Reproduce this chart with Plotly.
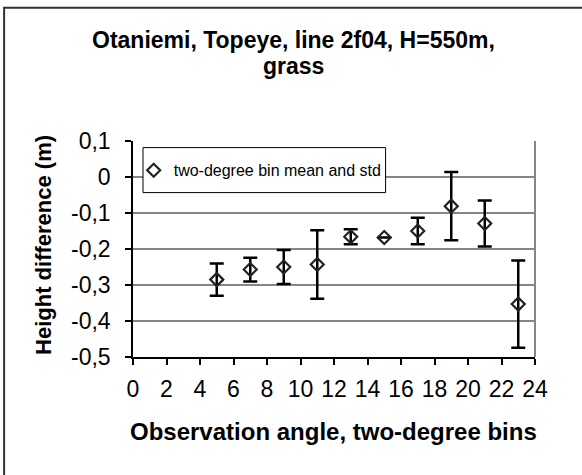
import plotly.graph_objects as go

# ---- data ----
angles = [5, 7, 9, 11, 13, 15, 17, 19, 21, 23]
means = [-0.285, -0.257, -0.250, -0.243, -0.166, -0.168, -0.150, -0.081, -0.129, -0.353]
stds = [0.045, 0.033, 0.047, 0.095, 0.021, 0.0, 0.037, 0.095, 0.064, 0.121]

x_tick_vals = [0, 2, 4, 6, 8, 10, 12, 14, 16, 18, 20, 22, 24]
x_tick_text = ["0", "2", "4", "6", "8", "10", "12", "14", "16", "18", "20", "22", "24"]
y_tick_vals = [0.1, 0.0, -0.1, -0.2, -0.3, -0.4, -0.5]
y_tick_text = ["0,1", "0", "-0,1", "-0,2", "-0,3", "-0,4", "-0,5"]

title_lines = ["Otaniemi, Topeye, line 2f04, H=550m,", "grass"]
x_title = "Observation angle, two-degree bins"
y_title = "Height difference (m)"
series_name = "two-degree bin mean and std"

FONT = "Arial, Liberation Sans, sans-serif"

fig = go.Figure()
fig.add_trace(go.Scatter(
    x=angles, y=means, mode="markers", name=series_name,
    marker=dict(symbol="diamond-open", size=10, color="#222222",
                line=dict(width=2.2, color="#222222")),
    error_y=dict(type="data", array=stds, visible=True, color="black",
                 thickness=2.5, width=7),
))

W, H = 582, 475
L, R, T, B = 133.3, 535.0, 140.7, 356.7
pw, ph = R - L, B - T

def px(xp):
    return (xp - L) / pw

def py(yp):
    return (B - yp) / ph

shapes = [
    # outer chart border (right/bottom edges lie outside the view)
    dict(type="rect", xref="paper", yref="paper", x0=px(4.5), x1=px(600), y0=py(495), y1=py(7.5),
         line=dict(color="#333333", width=2), fillcolor="rgba(0,0,0,0)", layer="below"),
    # right border of plot area
    dict(type="line", xref="paper", yref="paper", x0=1, x1=1, y0=0, y1=1,
         line=dict(color="#868686", width=2), layer="below"),
    # legend box
    dict(type="rect", xref="paper", yref="paper", x0=px(143.3), x1=px(385.7), y0=py(192.3), y1=py(147.3),
         line=dict(color="black", width=1), fillcolor="white", layer="above"),
]

annotations = [
    dict(text="<b>%s</b>" % title_lines[0], xref="paper", yref="paper", x=px(294), y=py(40),
         xanchor="center", yanchor="middle", showarrow=False, font=dict(family=FONT, size=23, color="black")),
    dict(text="<b>%s</b>" % title_lines[1], xref="paper", yref="paper", x=px(294), y=py(66),
         xanchor="center", yanchor="middle", showarrow=False, font=dict(family=FONT, size=23, color="black")),
    dict(text="<b>%s</b>" % x_title, xref="paper", yref="paper", x=px(333.5), y=py(431),
         xanchor="center", yanchor="middle", showarrow=False, font=dict(family=FONT, size=24, color="black")),
    dict(text="<b>%s</b>" % y_title, xref="paper", yref="paper", x=px(44), y=py(245),
         xanchor="center", yanchor="middle", textangle=-90, showarrow=False,
         font=dict(family=FONT, size=22, color="black")),
]

fig.update_layout(
    width=W, height=H,
    margin=dict(l=L, r=W - R, t=T, b=H - B, pad=0),
    paper_bgcolor="white", plot_bgcolor="white",
    font=dict(family=FONT, color="black"),
    showlegend=True,
    legend=dict(x=px(134), y=py(170), xanchor="left", yanchor="middle",
                bgcolor="rgba(0,0,0,0)", borderwidth=0,
                font=dict(family=FONT, size=16, color="black")),
    shapes=shapes,
    annotations=annotations,
    xaxis=dict(range=[0, 24], tickvals=x_tick_vals, ticktext=x_tick_text,
               showgrid=False, zeroline=False, showline=True, linecolor="black", linewidth=1.5,
               ticks="outside", ticklen=6, tickwidth=1.5, tickcolor="black",
               tickfont=dict(family=FONT, size=23, color="black"), ticklabelstandoff=5),
    yaxis=dict(range=[-0.5, 0.1], tickvals=y_tick_vals, ticktext=y_tick_text,
               showgrid=True, gridcolor="#868686", gridwidth=1.5, zeroline=False,
               showline=True, linecolor="black", linewidth=1.5,
               ticks="outside", ticklen=6, tickwidth=1.5, tickcolor="black",
               tickfont=dict(family=FONT, size=23, color="black"), ticklabelstandoff=10),
)

fig.write_html("out.html")
